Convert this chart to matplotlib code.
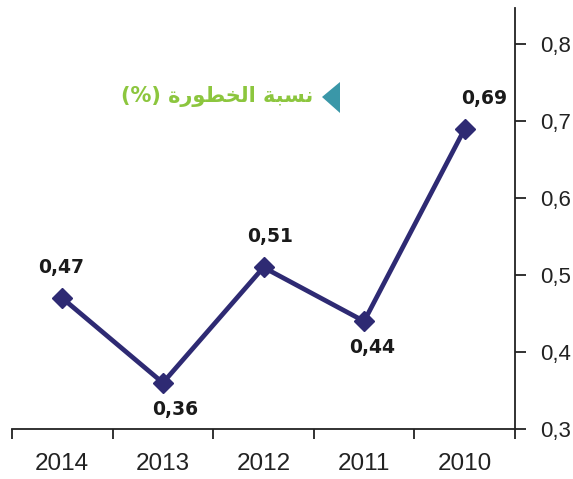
import matplotlib

matplotlib.use("Agg")
import matplotlib.pyplot as plt
from matplotlib.patches import Polygon
from matplotlib.ticker import FixedLocator, FuncFormatter

# Data (years shown right-to-left)
years = ["2014", "2013", "2012", "2011", "2010"]
risk = [0.47, 0.36, 0.51, 0.44, 0.69]
label_side = ["above", "below", "above", "below", "above"]
label_dx = [-1, 9, 5, 6, 14]

# Arabic legend text, shaped by hand (presentation forms, visual order)
legend_txt = "(%) \ufe93\ufead\ufeee\ufec4\ufea8\ufedf\ufe8d \ufe94\ufe92\ufeb4\ufee7"

line_col = "#2e2a73"
plt.rcParams["font.family"] = ["Liberation Sans", "DejaVu Sans"]

fig = plt.figure(figsize=(5.73, 4.79), dpi=100)
ax = fig.add_axes([12 / 573, 50 / 479, 503 / 573, 421 / 479])

x = list(range(len(years)))
ax.plot(x, risk, color=line_col, lw=3.4, marker="D", ms=10, mfc=line_col, mec=line_col, zorder=3)

for xi, v, side, dx in zip(x, risk, label_side, label_dx):
    dy = 22 if side == "above" else -19
    ax.annotate(
        f"{v:.2f}".replace(".", ","),
        (xi, v),
        xytext=(dx, dy),
        textcoords="offset points",
        ha="center",
        va="center",
        fontsize=13.5,
        fontweight="bold",
        family=["DejaVu Sans"],
        color="#1a1a1a",
    )

ax.set_xlim(-0.5, len(years) - 0.5)
ax.set_ylim(0.3, 0.847)

# y axis on the right side only
for s in ["top", "left"]:
    ax.spines[s].set_visible(False)
ax.spines["right"].set_color("#222222")
ax.spines["bottom"].set_color("#222222")
ax.spines["right"].set_linewidth(1.3)
ax.spines["bottom"].set_linewidth(1.3)

ax.yaxis.tick_right()
ax.set_yticks([0.3, 0.4, 0.5, 0.6, 0.7, 0.8])
ax.yaxis.set_major_formatter(FuncFormatter(lambda v, p: f"{v:.1f}".replace(".", ",")))
ax.tick_params(axis="y", direction="out", length=8, width=1.3, pad=10, labelsize=16, colors="#222222")

# category ticks between the years, labels at the centres
ax.xaxis.set_major_locator(FixedLocator([i - 0.5 for i in range(len(years) + 1)]))
ax.xaxis.set_major_formatter(FuncFormatter(lambda v, p: ""))
ax.xaxis.set_minor_locator(FixedLocator(x))
ax.set_xticklabels(years, minor=True)
ax.tick_params(axis="x", which="major", direction="out", length=7, width=1.3, colors="#222222")
ax.tick_params(axis="x", which="minor", length=0, pad=17, labelsize=17.5, colors="#222222")

# legend-like title with a tall pointer triangle
fig.text(313 / 573, 1 - 97 / 479, legend_txt, ha="right", va="center", fontsize=15,
         color="#8cc63e", fontweight="bold", family=["DejaVu Sans"])
tri = Polygon(
    [(322 / 573, 1 - 97 / 479), (340 / 573, 1 - 82 / 479), (340 / 573, 1 - 113 / 479)],
    closed=True, transform=fig.transFigure, facecolor="#3a97a8", edgecolor="none",
)
fig.patches.append(tri)

fig.savefig("out.png", dpi=100)
